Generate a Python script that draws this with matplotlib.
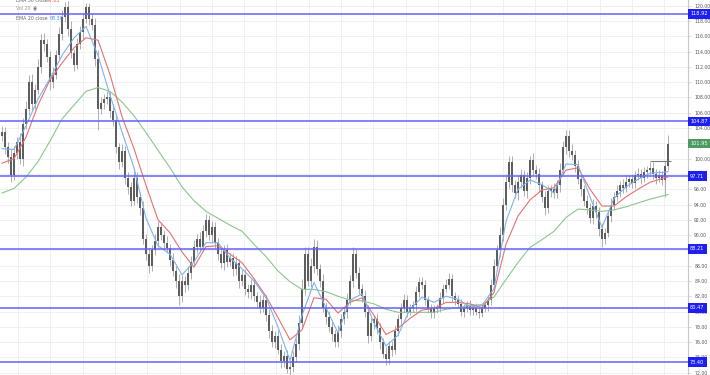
import numpy as np
import matplotlib
matplotlib.use('Agg')
import matplotlib.pyplot as plt

# daily closes, read left to right off the chart
closes = [
    103.5, 101.5, 100.2, 97.8, 100.8, 102.2, 100.0, 104.5, 106.5, 110.0,
    107.2, 109.0, 112.0, 115.5, 115.0, 113.3, 110.0, 111.0, 113.5, 116.3,
    118.5, 119.8, 117.0, 113.8, 112.3, 115.0, 116.5, 118.3, 119.8, 118.3,
    117.5, 113.0, 106.5, 107.3, 107.8, 108.0, 106.2, 105.0, 101.5, 99.5,
    101.0, 97.5, 96.3, 94.5, 97.5, 95.0, 93.5, 89.5, 87.5, 86.0,
    88.0, 89.2, 91.0, 90.0, 89.0, 88.3, 86.8, 85.3, 84.0, 82.0,
    84.0, 83.5, 85.0, 86.5, 88.5, 89.5, 88.5, 90.5, 92.0, 90.0,
    91.0, 89.0, 87.5, 86.3, 88.0, 86.5, 87.0, 85.5, 86.3, 84.0,
    84.8, 83.0, 82.5, 83.5, 82.0, 81.3, 80.5, 81.5, 79.5, 77.5,
    76.0, 76.8, 75.0, 73.5, 74.2, 72.5, 72.8, 74.0, 75.8, 78.5,
    83.0, 87.5, 84.0, 86.0, 88.5, 85.5, 84.0, 80.5, 79.3, 78.0,
    77.0, 76.0, 77.5, 79.0, 80.0, 81.5, 84.0, 87.5, 85.0, 83.0,
    82.0, 80.0, 76.8, 78.5, 79.0, 77.8, 76.0, 74.5, 73.8, 75.5,
    75.0, 77.5, 79.0, 80.5, 81.5, 80.0, 80.5, 80.8, 82.5, 83.8,
    83.5, 81.5, 80.3, 79.8, 80.3, 80.5, 81.8, 83.0, 83.5, 84.3,
    82.0, 81.5, 81.0, 80.0, 80.5, 80.8, 80.2, 80.5, 80.0, 79.8,
    80.5, 80.8, 81.5, 83.5, 86.0, 88.0, 90.0, 94.0, 97.0, 99.5,
    96.5, 95.5, 97.0, 97.8, 95.8, 97.5, 99.8, 98.5, 98.0, 96.5,
    95.0, 93.5, 95.8, 96.0, 95.5, 96.5, 98.5, 101.5, 103.0, 101.0,
    100.5, 99.0, 97.3, 96.0, 94.5, 93.5, 92.2, 93.8, 93.0, 90.8,
    89.5, 90.3, 92.5, 94.0, 95.0, 95.8, 96.5, 96.2, 97.0, 97.3,
    96.8, 97.8, 98.0, 97.5, 98.2, 98.5, 98.8, 98.0, 97.5, 97.8,
    97.2, 99.0, 101.95,
]
first_open = 103.0

# wick lengths above / below the body
wick_up = [
    0.8, 0.6, 0.7, 1.0, 0.9, 0.6, 1.2, 0.8, 1.0, 0.9,
    1.1, 0.7, 1.0, 0.8, 0.9, 0.6, 0.8, 1.0, 0.7, 0.9,
    0.9, 0.7, 0.8, 1.0, 0.6, 0.8, 0.9, 0.7, 0.6, 0.5,
    0.8, 0.9, 1.2, 0.8, 0.6, 0.9, 0.7, 1.0, 0.8, 0.6,
    0.9, 0.7, 0.8, 0.6, 1.0, 0.8, 0.7, 0.9, 0.6, 0.8,
    0.7, 0.9, 0.8, 0.6, 0.7, 0.9, 0.6, 0.8, 0.7, 0.9,
    0.8, 0.6, 0.9, 0.7, 0.8, 0.6, 0.9, 0.8, 0.7, 0.6,
    0.8, 0.7, 0.6, 0.9, 0.7, 0.8, 0.6, 0.7, 0.9, 0.6,
    0.7, 0.8, 0.6, 0.7, 0.9, 0.6, 0.8, 0.7, 0.6, 0.8,
    0.7, 0.6, 0.8, 0.7, 0.6, 0.8, 0.7, 0.9, 0.8, 1.0,
    1.2, 1.0, 0.9, 1.0, 1.0, 0.8, 0.7, 0.9, 0.6, 0.8,
    0.7, 0.6, 0.8, 0.7, 0.6, 0.9, 0.8, 1.0, 0.7, 0.8,
    0.6, 0.8, 0.9, 0.7, 0.6, 0.8, 0.7, 0.6, 0.8, 0.7,
    0.6, 0.8, 0.7, 0.6, 0.8, 0.7, 0.5, 0.6, 0.8, 0.7,
    0.7, 0.6, 0.5, 0.7, 0.6, 0.5, 0.7, 0.6, 0.8, 0.7,
    0.6, 0.5, 0.7, 0.6, 0.5, 0.6, 0.7, 0.5, 0.6, 0.5,
    0.6, 0.5, 0.7, 0.8, 0.9, 0.7, 1.0, 0.9, 1.0, 0.8,
    0.9, 0.7, 0.8, 0.9, 0.7, 0.8, 0.6, 0.9, 0.7, 0.8,
    0.6, 0.8, 0.7, 0.6, 0.8, 0.7, 0.9, 0.8, 0.8, 0.7,
    0.9, 0.6, 0.8, 0.7, 0.6, 0.8, 0.7, 0.9, 0.6, 0.7,
    0.8, 0.6, 0.7, 0.8, 0.6, 0.7, 0.6, 0.8, 0.7, 0.6,
    0.7, 0.6, 0.8, 0.6, 0.7, 0.6, 0.8, 0.7, 0.6, 0.7,
    0.6, 0.7, 1.15,
]
wick_dn = [
    0.7, 0.9, 0.8, 0.9, 0.6, 0.8, 0.7, 0.9, 0.6, 0.8,
    0.9, 0.7, 0.6, 0.8, 0.9, 0.7, 1.0, 0.8, 0.6, 0.7,
    0.8, 0.6, 0.9, 0.7, 0.8, 0.6, 0.7, 0.9, 0.6, 0.8,
    0.7, 0.9, 2.8, 0.7, 0.8, 0.6, 0.9, 0.7, 0.8, 0.9,
    0.6, 0.8, 0.9, 0.7, 0.6, 0.8, 0.9, 0.7, 0.8, 0.9,
    0.7, 0.6, 0.8, 0.7, 0.9, 0.6, 0.8, 0.7, 0.9, 1.1,
    0.8, 1.0, 0.7, 0.8, 0.6, 0.9, 0.7, 0.6, 0.8, 0.7,
    0.9, 0.7, 0.8, 0.6, 0.9, 0.7, 0.6, 0.8, 0.7, 0.9,
    0.6, 0.8, 0.7, 0.9, 0.6, 0.8, 0.7, 0.6, 0.8, 0.9,
    0.7, 0.8, 0.6, 0.9, 0.7, 0.6, 0.8, 0.7, 0.6, 0.8,
    0.8, 0.9, 0.7, 0.8, 0.9, 0.7, 0.8, 0.6, 0.9, 0.7,
    0.8, 0.6, 0.7, 0.8, 0.6, 0.9, 0.7, 0.8, 0.6, 0.7,
    0.8, 0.7, 0.9, 0.6, 0.8, 0.7, 0.9, 0.6, 0.8, 0.7,
    0.8, 0.6, 0.7, 0.8, 0.6, 0.7, 0.5, 0.6, 0.7, 0.6,
    0.6, 0.7, 0.5, 0.6, 0.7, 0.5, 0.6, 0.7, 0.5, 0.6,
    0.7, 0.6, 0.5, 0.6, 0.7, 0.5, 0.6, 0.7, 0.5, 0.6,
    0.5, 0.6, 0.7, 0.6, 0.8, 0.7, 0.9, 0.8, 0.7, 0.9,
    0.8, 0.7, 0.9, 0.8, 0.7, 0.9, 0.8, 0.7, 0.6, 0.8,
    0.7, 0.9, 0.6, 0.8, 0.7, 0.6, 0.8, 0.7, 0.9, 0.8,
    0.7, 0.8, 0.6, 0.9, 0.7, 0.8, 0.6, 0.7, 0.8, 0.9,
    1.1, 0.7, 0.6, 0.8, 0.7, 0.6, 0.8, 0.7, 0.6, 0.7,
    0.6, 0.7, 0.6, 0.8, 0.6, 0.7, 0.6, 0.7, 0.8, 0.6,
    0.7, 2.2, 0.5,
]

# moving averages read every 4th bar (plus the last one)
ema_idx = list(range(0, 221, 4)) + [222]
ema20 = [
    101.3, 101.2, 104.3, 107.8, 110.5, 113.5, 115.8, 117.3, 113.5, 108.3,
    103.5, 98.8, 92.2, 88.6, 87.5, 84.8, 86.5, 89.0, 89.0, 87.0,
    85.6, 84.0, 81.8, 78.0, 73.6, 79.5, 83.8, 80.5, 77.2, 81.5,
    82.3, 78.5, 75.5, 76.9, 80.3, 81.9, 81.2, 82.0, 81.6, 80.6,
    80.8, 83.0, 91.8, 96.0, 97.2, 96.6, 95.5, 99.3, 99.2, 95.0,
    91.0, 94.8, 96.3, 97.3, 98.1, 98.2, 98.3,
]
ema50 = [
    99.4, 100.0, 102.8, 107.0, 110.3, 112.5, 114.5, 115.8, 115.5, 111.0,
    105.5, 101.3, 96.5, 92.0, 90.3, 87.8, 85.8, 88.5, 88.6, 87.5,
    86.4, 84.3, 82.0, 79.2, 76.3, 77.6, 81.8, 81.6, 79.8, 81.2,
    81.8, 79.5, 77.0, 77.8, 79.1, 80.2, 80.4, 81.2, 81.2, 81.0,
    80.5, 82.5, 88.8, 92.5, 94.6, 95.9, 96.2, 98.5, 98.8, 96.0,
    93.8, 93.8, 95.0, 96.0, 96.9, 97.4, 97.6,
]
ema_long = [
    95.5, 96.1, 97.6, 99.6, 102.3, 105.2, 107.0, 108.8, 109.3, 108.8,
    107.4, 105.6, 103.4, 101.1, 98.8, 96.3, 94.5, 93.1, 92.2, 91.3,
    90.5, 88.8, 87.2, 85.3, 83.9, 82.9, 82.9, 82.6, 82.0, 81.5,
    81.4, 81.0, 80.3, 79.9, 79.9, 79.9, 79.9, 80.3, 80.5, 80.8,
    80.9, 81.9, 84.2, 86.4, 88.4, 89.4, 90.5, 92.3, 93.4, 93.3,
    93.1, 93.3, 93.7, 94.2, 94.7, 95.1, 95.3,
]

levels = [118.92, 104.87, 97.71, 88.21, 80.47, 73.40]
last_price = 101.95
drawn_level = 99.7
drawn_span = (216, 223)

opens = [first_open] + closes[:-1]
o = np.array(opens)
c = np.array(closes)
highs = np.maximum(o, c) + np.array(wick_up)
lows = np.minimum(o, c) - np.array(wick_dn)
idx = np.arange(len(closes))

fig = plt.figure(figsize=(7.1, 3.75), dpi=100)
ax = fig.add_axes([0, 0, 688 / 710, 1])
ax.set_xlim(-0.67, 228.67)
ax.set_ylim(71.70, 120.75)

# grid
yticks = np.arange(72, 121, 2)
ax.set_yticks(yticks)
ax.set_xticks(np.arange(5.33, 229, 10.77))
ax.grid(color='#eef0f4', lw=0.7)
ax.set_axisbelow(True)
ax.yaxis.tick_right()
ax.tick_params(axis='y', length=2, width=0.5, color='#cccccc', labelsize=3.3,
               labelcolor='#555555', pad=2.5)
# price tags cover the tick labels right under them
tags = levels + [last_price]
ax.set_yticklabels(['' if min(abs(v - t) for t in tags) < 0.4 else f'{v:.2f}'
                    for v in yticks])
ax.tick_params(axis='x', length=0, labelbottom=False)
for s in ['top', 'left', 'bottom']:
    ax.spines[s].set_visible(False)
ax.spines['right'].set_color('#c8c8c8')
ax.spines['right'].set_linewidth(0.8)

# candles
ax.vlines(idx, lows, highs, color='#8e8e8e', lw=0.5, zorder=2)
ax.bar(idx, np.maximum(np.abs(c - o), 0.15), bottom=np.minimum(o, c),
       width=0.55, color='#5e5e5e', zorder=3)

# EMAs
ax.plot(ema_idx, ema_long, color='#8cc68a', lw=0.8, zorder=4)
ax.plot(ema_idx, ema50, color='#e8706e', lw=0.8, zorder=4)
ax.plot(ema_idx, ema20, color='#7cb2f2', lw=0.8, zorder=4)

# horizontal levels with price tags
for lvl in levels:
    ax.axhline(lvl, color='#6262fa', lw=1.1, zorder=5)
    ax.text(1.003, lvl, f'{lvl:.2f}', transform=ax.get_yaxis_transform(),
            fontsize=3.6, color='white', va='center', ha='left', clip_on=False,
            zorder=6, bbox=dict(boxstyle='square,pad=0.45', fc='#1f1ff0', ec='none'))
ax.text(1.003, last_price, f'{last_price:.2f}', transform=ax.get_yaxis_transform(),
        fontsize=3.6, color='white', va='center', ha='left', clip_on=False,
        zorder=6, bbox=dict(boxstyle='square,pad=0.45', fc='#4f9a63', ec='none'))

ax.hlines(drawn_level, drawn_span[0], drawn_span[1], color='#7a7a7a', lw=0.8, zorder=5)

# legend lines, top left
lx = 16 / 710
fig.text(lx, 1 - 1 / 375, 'EMA 50 close', fontsize=3.4, color='#666666', va='center')
fig.text(lx + 31 / 710, 1 - 1 / 375, '97.03', fontsize=3.4, color='#e8504e', va='center')
fig.text(lx, 1 - 9 / 375, 'Vol 20', fontsize=3.4, color='#999999', va='center')
fig.text(lx + 17 / 710, 1 - 9 / 375, '\u25c9', fontsize=3.4, color='#777777', va='center')
fig.text(lx, 1 - 19 / 375, 'EMA 20 close', fontsize=3.4, color='#666666', va='center')
fig.text(lx + 34 / 710, 1 - 19 / 375, '98.30', fontsize=3.4, color='#4a90e2', va='center')

fig.savefig('out.png', dpi=100)
